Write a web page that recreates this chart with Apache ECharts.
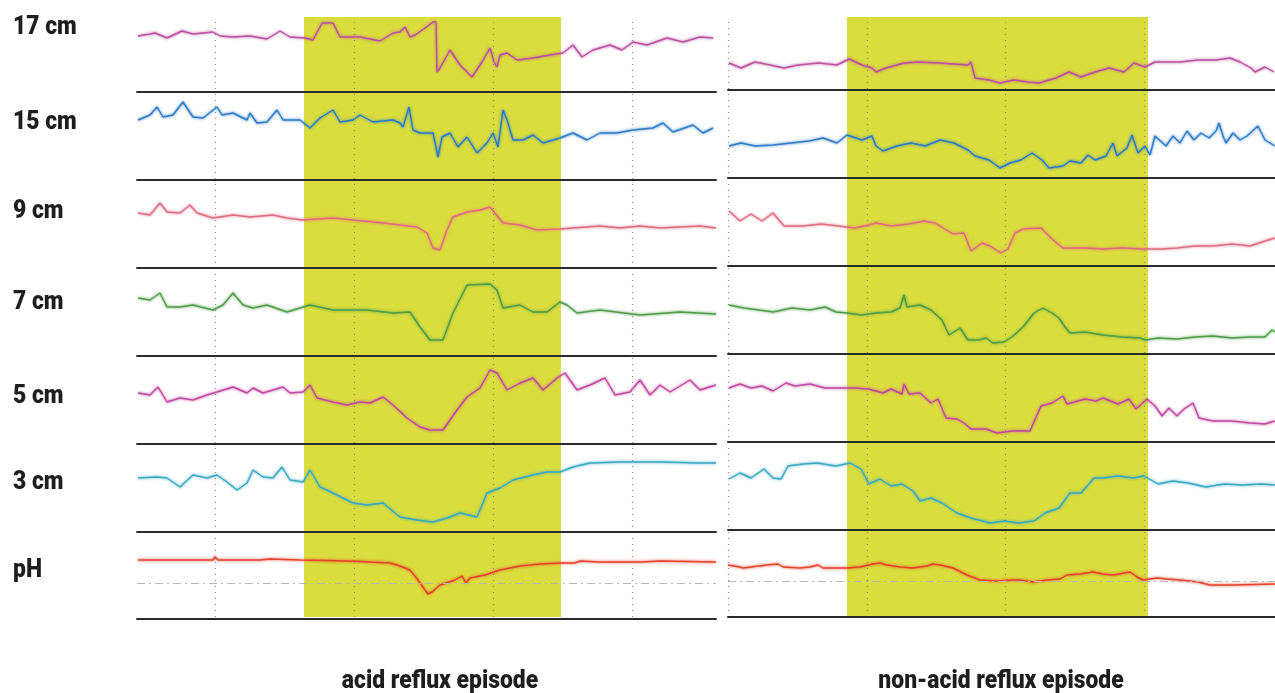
<!DOCTYPE html>
<html>
<head>
<meta charset="utf-8">
<script src="https://cdn.jsdelivr.net/npm/echarts@6/dist/echarts.min.js"></script>
<style>
    html, body { margin: 0; padding: 0; background: #fff; }
    #chart { width: 1275px; height: 693px; }
</style>
</head>
<body>
<div id="chart"></div>
<script>
// channels, top to bottom
const rowLabels = ['17 cm', '15 cm', '9 cm', '7 cm', '5 cm', '3 cm', 'pH']
const episodeLabels = ['acid reflux episode', 'non-acid reflux episode']

// [sample, height above the channel's baseline]
const acid17 = [[1,56],[13,58],[18,59],[30,54],[45,61],[56,58],[66,59],[76,60],[83,56],[96,55],[113,56],[130,53],[143,61],[153,55],[168,54],[176,52],[185,69],[196,69],[203,55],[223,55],[243,51],[256,59],[263,60],[268,65],[273,55],[278,57],[288,64],[296,70],[299,70],[300,20],[303,24],[313,42],[323,27],[335,15],[345,30],[353,44],[357,30],[360,25],[363,37],[370,39],[380,32],[396,34],[413,37],[426,39],[436,47],[445,35],[456,42],[473,47],[485,42],[496,50],[510,47],[530,54],[546,50],[563,55],[576,54]]
const acid15 = [[1,60],[13,65],[20,73],[26,63],[36,65],[46,78],[56,63],[66,62],[80,73],[85,65],[96,67],[110,60],[113,67],[120,57],[130,58],[140,70],[146,60],[163,60],[173,52],[183,62],[196,70],[203,58],[216,60],[223,65],[236,58],[256,60],[263,57],[266,53],[272,73],[276,50],[283,47],[296,47],[301,23],[305,43],[313,47],[321,33],[330,43],[340,27],[350,37],[356,47],[361,33],[366,70],[370,60],[376,40],[386,40],[396,45],[406,37],[423,42],[436,47],[450,40],[463,47],[480,47],[496,50],[516,52],[526,57],[536,48],[556,55],[566,47],[576,52]]
const acid9 = [[1,55],[13,53],[23,65],[30,56],[43,55],[53,63],[60,55],[76,50],[96,53],[113,51],[136,53],[150,50],[166,48],[196,50],[216,48],[246,45],[280,41],[290,35],[296,20],[303,18],[310,38],[316,51],[330,56],[343,58],[353,61],[366,45],[383,43],[400,38],[423,39],[436,40],[463,42],[483,40],[503,42],[523,40],[543,41],[563,42],[579,40]]
const acid7 = [[1,58],[13,56],[23,63],[30,49],[43,49],[56,51],[76,46],[86,51],[96,63],[106,51],[116,48],[130,51],[150,44],[163,48],[173,51],[196,46],[230,46],[256,43],[273,44],[283,29],[293,16],[306,16],[316,43],[330,71],[353,72],[360,66],[366,48],[383,51],[396,44],[410,44],[423,54],[430,51],[440,43],[463,46],[503,41],[543,44],[579,42]]
const acid5 = [[1,51],[13,49],[21,57],[30,42],[43,46],[56,44],[70,49],[80,52],[96,57],[110,51],[116,56],[126,51],[136,54],[146,57],[153,51],[166,52],[173,59],[180,46],[196,42],[210,39],[223,42],[233,41],[246,47],[256,39],[270,26],[283,17],[293,14],[306,14],[320,34],[330,47],[343,56],[353,74],[360,71],[370,54],[383,61],[396,66],[406,54],[420,66],[428,71],[440,54],[453,59],[468,66],[478,49],[493,52],[503,64],[513,49],[523,59],[533,52],[553,64],[563,54],[579,59]]
const acid3 = [[1,54],[20,55],[30,54],[43,45],[56,57],[70,54],[80,57],[90,50],[100,42],[110,49],[116,62],[126,55],[136,54],[145,65],[153,52],[166,50],[173,62],[183,45],[196,39],[216,29],[230,27],[246,29],[263,15],[280,12],[296,10],[310,14],[323,19],[340,15],[350,39],[363,44],[376,52],[396,57],[410,60],[423,60],[436,65],[453,69],[483,70],[523,70],[563,69],[579,69]]
const acidPH = [[1,59],[43,59],[45,61],[53,59],[76,59],[78,62],[81,59],[123,59],[133,60],[163,59],[213,58],[253,56],[263,53],[273,49],[281,39],[288,29],[291,25],[295,27],[303,34],[318,39],[325,43],[329,36],[333,41],[348,44],[363,49],[383,53],[403,55],[424,56],[438,56],[443,58],[463,57],[503,57],[523,58],[579,57]]

const nonAcid17 = [[1,27],[13,22],[27,28],[42,25],[56,22],[70,25],[91,27],[109,25],[121,31],[134,25],[144,22],[148,18],[158,22],[176,27],[190,28],[211,27],[240,25],[243,28],[247,12],[261,10],[272,7],[286,10],[300,8],[311,7],[328,12],[341,18],[353,13],[367,18],[381,22],[396,18],[406,27],[417,23],[427,28],[452,28],[470,30],[488,30],[502,32],[512,28],[523,22],[527,18],[537,23],[546,18]]
const nonAcid15 = [[1,32],[13,35],[27,32],[45,33],[63,35],[81,37],[95,40],[109,35],[119,43],[134,38],[144,42],[148,32],[155,27],[169,32],[183,35],[197,32],[212,38],[226,35],[240,28],[247,22],[261,18],[272,10],[282,15],[293,18],[304,25],[314,18],[321,10],[335,12],[342,17],[353,15],[360,23],[367,18],[378,22],[385,35],[389,22],[399,30],[404,43],[410,25],[417,32],[422,23],[427,42],[438,32],[445,42],[452,35],[459,47],[466,38],[473,45],[481,40],[488,47],[491,55],[495,42],[498,35],[505,45],[512,38],[519,42],[530,52],[537,38],[547,32]]
const nonAcid9 = [[1,55],[12,45],[23,52],[34,45],[45,53],[56,40],[75,40],[93,42],[111,40],[126,38],[137,40],[148,43],[163,40],[181,42],[196,45],[207,43],[225,32],[236,33],[243,15],[254,23],[262,20],[273,13],[280,17],[287,33],[295,37],[313,38],[324,27],[335,18],[357,18],[375,17],[394,18],[416,17],[434,17],[449,18],[467,20],[485,20],[504,22],[522,20],[537,25],[547,28]]
const nonAcid7 = [[1,49],[16,46],[31,44],[45,42],[64,46],[82,44],[97,47],[108,42],[119,41],[133,39],[148,41],[163,42],[172,46],[176,59],[179,47],[192,49],[203,44],[214,34],[221,19],[232,26],[240,14],[251,14],[258,16],[265,11],[276,12],[284,17],[295,27],[306,41],[315,46],[324,41],[331,36],[337,27],[342,21],[357,22],[375,19],[394,17],[412,16],[418,14],[430,16],[449,15],[467,17],[485,18],[504,16],[522,17],[537,17],[544,24],[547,22]]
const nonAcid5 = [[1,54],[12,58],[23,54],[34,56],[45,51],[58,59],[67,56],[82,58],[97,54],[111,54],[126,54],[141,53],[155,49],[163,53],[174,48],[176,58],[181,48],[192,49],[203,39],[210,43],[218,24],[229,23],[236,19],[243,13],[258,13],[269,9],[284,11],[302,11],[313,36],[324,39],[335,46],[339,38],[357,43],[368,41],[375,44],[390,38],[401,43],[408,33],[419,43],[427,36],[434,26],[441,34],[449,26],[456,33],[465,39],[471,24],[485,21],[504,21],[522,19],[537,18],[547,21]]
const nonAcid3 = [[1,51],[12,57],[23,52],[36,61],[45,52],[53,51],[60,64],[75,66],[89,67],[108,64],[122,67],[133,61],[141,46],[152,51],[163,44],[174,46],[185,39],[192,29],[203,32],[214,27],[229,17],[243,12],[262,7],[276,9],[291,7],[306,9],[317,17],[331,22],[342,37],[353,37],[361,46],[366,52],[375,52],[390,54],[405,52],[416,54],[430,46],[445,49],[460,47],[478,43],[496,46],[515,45],[533,46],[547,45]]
const nonAcidPH = [[0,52],[12,50],[15,49],[39,52],[50,53],[55,50],[72,49],[82,50],[90,52],[95,49],[119,49],[132,50],[145,53],[152,54],[159,52],[172,50],[185,49],[199,51],[205,53],[212,52],[225,49],[239,42],[252,37],[269,36],[285,37],[292,37],[305,35],[319,37],[332,38],[339,42],[352,43],[365,45],[375,43],[385,42],[402,45],[409,40],[415,37],[422,38],[429,39],[439,38],[452,37],[470,35],[482,32],[504,32],[547,33]]

// episode windows and the dotted time marks (samples)
const acidEpisode = [167, 424]
const nonAcidEpisode = [119, 420]
const acidTimeMarks = [78, 217, 356, 495]
const nonAcidTimeMarks = [0, 139, 277, 416]
const phThreshold = 36

// trace colours: on white, and how they look over the yellow window
const traceColors = ['#b9529f', '#2d7ac6', '#e06c80', '#4f9c49', '#c04aa0', '#3ba8c4', '#e5432c']
const traceColorsInEpisode = ['#ad2f7c', '#1f6cbc', '#e2513c', '#3b8c36', '#b3317e', '#2a9cb6', '#e0461c']

const ROW_H = 86
const labelFont = "Roboto, 'Liberation Sans', sans-serif"
const LABEL_SQUEEZE = 0.88 // the original lettering is a condensed face

const panels = [
    {
        left: 137, span: 579,
        baselines: [92, 180, 268, 356, 444, 532, 619],
        traces: [acid17, acid15, acid9, acid7, acid5, acid3, acidPH],
        episode: acidEpisode, marks: acidTimeMarks,
        title: episodeLabels[0], titleX: 440
    },
    {
        left: 728, span: 547,
        baselines: [90, 178, 266, 354, 442, 530, 617],
        traces: [nonAcid17, nonAcid15, nonAcid9, nonAcid7, nonAcid5, nonAcid3, nonAcidPH],
        episode: nonAcidEpisode, marks: nonAcidTimeMarks,
        title: episodeLabels[1], titleX: 1001
    }
]

let grid = [], xAxis = [], yAxis = [], series = [], visualMap = []

panels.forEach(p => {
    // background grid: yellow episode window + dotted time marks
    let bg = grid.length
    grid.push({ left: p.left, top: 17, width: p.span, height: 600 })
    xAxis.push({ gridIndex: bg, type: 'value', min: 0, max: p.span, show: false })
    yAxis.push({ gridIndex: bg, type: 'value', min: 0, max: 1, show: false })
    series.push({
        type: 'line', xAxisIndex: bg, yAxisIndex: bg, data: [], z: 0, silent: true,
        markArea: {
            silent: true,
            itemStyle: { color: '#dadd3e' },
            data: [[{ xAxis: p.episode[0] }, { xAxis: p.episode[1] }]]
        },
        markLine: {
            silent: true, symbol: 'none', label: { show: false },
            lineStyle: { type: [1, 5], color: '#8a8a8a', width: 1.2 },
            data: p.marks.map(v => ({ xAxis: v }))
        }
    })

    // one grid per channel
    p.traces.forEach((trace, i) => {
        let k = grid.length
        grid.push({ left: p.left, top: p.baselines[i] - ROW_H, width: p.span, height: ROW_H })
        xAxis.push({
            gridIndex: k, type: 'value', min: 0, max: p.span, z: 5,
            axisLine: { show: true, lineStyle: { color: '#2b2b2b', width: 2 } },
            axisTick: { show: false }, axisLabel: { show: false }, splitLine: { show: false }
        })
        yAxis.push({ gridIndex: k, type: 'value', min: 0, max: ROW_H, show: false })
        let s = {
            type: 'line', xAxisIndex: k, yAxisIndex: k, data: trace, z: 3,
            symbol: 'none', showSymbol: false,
            lineStyle: { color: traceColors[i], width: 1.4, shadowColor: traceColors[i], shadowBlur: 3 }
        }
        if (i === 6) {
            // pH 4 threshold
            s.markLine = {
                silent: true, symbol: 'none', label: { show: false },
                lineStyle: { type: [8, 4, 2, 4], color: '#b8b8b8', width: 1 },
                data: [{ yAxis: phThreshold }]
            }
        }
        // recolour the stretch that lies over the episode window
        visualMap.push({
            type: 'piecewise', show: false, dimension: 0, seriesIndex: series.length,
            pieces: [
                { lt: p.episode[0], color: traceColors[i] },
                { gte: p.episode[0], lte: p.episode[1], color: traceColorsInEpisode[i] },
                { gt: p.episode[1], color: traceColors[i] }
            ]
        })
        series.push(s)
    })
})

let graphic = []
const labelBaselines = [35, 130, 219, 310, 404, 490, 578]
rowLabels.forEach((t, i) => {
    graphic.push({
        type: 'text', x: 13, y: labelBaselines[i] - 8, scaleX: LABEL_SQUEEZE,
        style: { text: t, fontSize: 26, fontWeight: 900, fontFamily: labelFont, fill: '#1e1e1e', align: 'left', verticalAlign: 'middle' }
    })
})
panels.forEach(p => {
    graphic.push({
        type: 'text', x: p.titleX, y: 681, scaleX: LABEL_SQUEEZE,
        style: { text: p.title, fontSize: 26, fontWeight: 900, fontFamily: labelFont, fill: '#1e1e1e', align: 'center', verticalAlign: 'middle' }
    })
})

let myChart = echarts.init(document.getElementById('chart'))
myChart.setOption({
    animation: false,
    backgroundColor: '#fff',
    grid: grid,
    xAxis: xAxis,
    yAxis: yAxis,
    visualMap: visualMap,
    series: series,
    graphic: graphic
})
</script>
</body>
</html>
